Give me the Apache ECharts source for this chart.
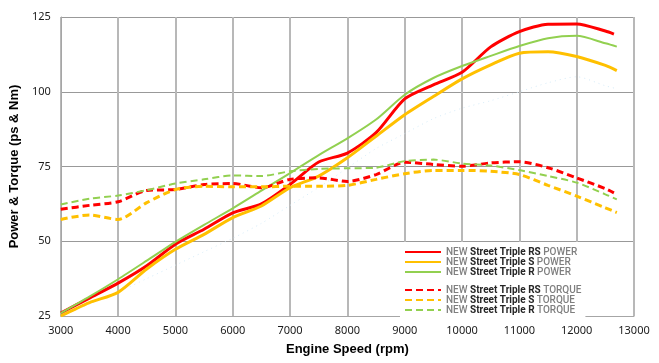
<!DOCTYPE html>
<html><head><meta charset="utf-8">
<script src="https://cdn.jsdelivr.net/npm/echarts@6/dist/echarts.min.js"></script>
<style>html,body{margin:0;padding:0;background:#fff}#c{width:659px;height:363px}</style>
</head><body><div id="c"></div>
<script>
const rpm = [3000,3500,4000,4500,5000,5500,6000,6500,7000,7500,8000,8500,9000,9500,10000,10500,11000,11500,12000,12500,12650,12700];
const rsPower = [26,31,36,41.8,49,54,59.5,62.5,69,76.5,79.5,86.3,97.6,102.3,106.5,115,120.1,122.6,122.7,120.3,119.3,null];
const sPower  = [25,29.5,32.9,40.7,47.3,52.3,57.9,61.8,67.9,71.8,77.9,85.1,92.3,98.4,104.3,109,112.9,113.4,111.8,108.8,null,107.1];
const rPower  = [26,31.5,37.3,43.5,49.8,55.5,61,66.9,72.8,78.8,84.4,90.7,99,104.6,108.6,112,115.3,117.9,118.7,116.2,null,115.1];
const rsTorque = [60.7,62,63.2,67,67.3,69,69.3,67.9,70.7,71.2,70,72.3,76.4,75.7,75.1,76.2,76.6,74.6,71.2,67.6,66.2,null];
const sTorque  = [57.3,58.8,57.3,62.9,67.3,68.4,68.2,68.2,68.4,68.4,68.7,70.7,72.6,73.7,73.7,73.4,72.3,68.7,65.1,61.2,null,59.6];
const rTorque  = [62.3,64.2,65.3,67.1,69.3,70.7,72,71.8,73.4,74.2,74.4,74.6,76.8,77.3,76,75.3,73.8,71.8,69.6,65.7,null,64];
const oldPower = [25,29,33,37.5,42,46.5,51,56,62,68,74.5,81,86,91,94.5,97,100,103,105,102,null,101];
const powerNames = ['NEW Street Triple RS POWER','NEW Street Triple S POWER','NEW Street Triple R POWER'];
const torqueNames = ['NEW Street Triple RS TORQUE','NEW Street Triple S TORQUE','NEW Street Triple R TORQUE'];
const xTicks = {min:3000,max:13000,step:1000};
const yTicks = {min:25,max:125,step:25};

const pair = arr => rpm.map((x,i)=>[x,arr[i]]);
const RED='#ff0000', ORANGE='#ffc000', GREEN='#92d050';
function line(name,data,color,width,type){
  return {name,type:'line',data:pair(data),showSymbol:false,symbol:'none',smooth:0.25,connectNulls:true,
    lineStyle:{color,width,type:type||'solid',cap:'butt'},itemStyle:{color},z:3};
}
const legendText = {
  fontFamily:'Roboto, "Liberation Sans", sans-serif',fontSize:10,lineHeight:10,
  rich:{g:{color:'#7f7f7f',fontSize:10,fontFamily:'Roboto, sans-serif',fontWeight:500},
        b:{color:'#262626',fontSize:10,fontFamily:'Roboto, sans-serif',fontWeight:'bold'}}
};
const fmt = n => { const m=n.match(/^(NEW) (Street Triple \w+) (\w+)$/); return '{g|'+m[1]+'} {b|'+m[2]+'} {g|'+m[3]+'}'; };
const chart = echarts.init(document.getElementById('c'),null,{renderer:'canvas'});
chart.setOption({
  animation:false,
  backgroundColor:'#fff',
  grid:{left:49,right:25,top:17,bottom:47,containLabel:false},
  xAxis:{type:'value',min:xTicks.min,max:xTicks.max,interval:xTicks.step,
    name:'Engine Speed (rpm)',nameLocation:'middle',nameGap:27,
    nameTextStyle:{fontFamily:'"Liberation Sans Narrow","Liberation Sans",sans-serif',fontWeight:'bold',fontSize:13,color:'#000'},
    axisLine:{lineStyle:{color:'#a6a6a6',width:1}},axisTick:{show:false},
    axisLabel:{margin:9,fontFamily:'"Noto Sans",sans-serif',fontSize:11,color:'#1a1a1a',formatter:v=>String(v)},
    splitLine:{show:true,lineStyle:{color:'#b8b8b8',width:2}}},
  yAxis:{type:'value',min:yTicks.min,max:yTicks.max,interval:yTicks.step,
    name:'Power & Torque (ps & Nm)',nameLocation:'middle',nameGap:28,
    nameTextStyle:{fontFamily:'"Liberation Sans Narrow","Liberation Sans",sans-serif',fontWeight:'bold',fontSize:13,color:'#000'},
    axisLine:{show:true,lineStyle:{color:'#a6a6a6',width:1}},axisTick:{show:false},
    axisLabel:{margin:10,fontFamily:'"Noto Sans",sans-serif',fontSize:11,color:'#1a1a1a',formatter:v=>String(v)},
    splitLine:{show:true,lineStyle:{color:'#999',width:1}}},
  legend:[
    {data:powerNames,orient:'vertical',left:400,top:242,padding:[5,10,8,4],itemGap:0,itemWidth:36,itemHeight:10,
     backgroundColor:'#fff',itemStyle:{opacity:0},formatter:fmt,textStyle:legendText,z:10},
    {data:torqueNames,orient:'vertical',left:400,top:285,padding:[0,4,5,4],itemGap:0,itemWidth:36,itemHeight:10,
     backgroundColor:'#fff',itemStyle:{opacity:0},formatter:fmt,textStyle:legendText,z:10}
  ],
  series:[
    {name:'old',type:'line',data:pair(oldPower),showSymbol:false,symbol:'none',smooth:0.25,connectNulls:true,
     lineStyle:{color:'#d4eaf7',width:1,type:[1,4]},z:2},
    line(powerNames[0],rsPower,RED,3),
    line(powerNames[1],sPower,ORANGE,3),
    line(powerNames[2],rPower,GREEN,2),
    line(torqueNames[0],rsTorque,RED,3,[7,4]),
    line(torqueNames[1],sTorque,ORANGE,3,[7,4]),
    line(torqueNames[2],rTorque,GREEN,2,[7,4])
  ]
});
</script></body></html>
